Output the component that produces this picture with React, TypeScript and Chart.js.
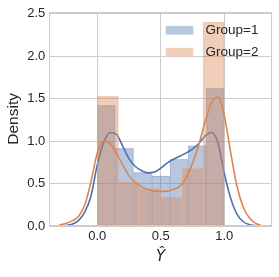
import React, { useEffect, useRef } from 'react';
import { Chart, registerables } from 'chart.js';

Chart.register(...registerables);

// ---- data ----
const groupLabels = ['Group=1', 'Group=2'];
const histRange = [0, 1];
const hist1 = [1.42, 0.915, 0.63, 0.59, 0.787, 0.945, 1.62];
const hist2 = [1.527, 0.52, 0.44, 0.34, 0.68, 2.4];
const kdeX = [
  -0.3, -0.25, -0.2, -0.15, -0.1, -0.05, 0.0, 0.05, 0.1, 0.15, 0.2, 0.25, 0.3, 0.35, 0.4, 0.45, 0.5,
  0.55, 0.6, 0.65, 0.7, 0.75, 0.8, 0.85, 0.9, 0.95, 1.0, 1.05, 1.1, 1.15, 1.2, 1.25, 1.3,
];
const kde1 = [
  0.0, 0.005, 0.02, 0.06, 0.16, 0.35, 0.72, 0.98, 1.1, 1.08, 0.94, 0.79, 0.7, 0.65, 0.625, 0.635, 0.68,
  0.74, 0.785, 0.82, 0.86, 0.905, 0.97, 1.06, 1.1, 0.98, 0.62, 0.33, 0.14, 0.05, 0.015, 0.003, 0.0,
];
const kde2 = [
  0.01, 0.03, 0.06, 0.11, 0.24, 0.52, 0.86, 1.0, 0.97, 0.86, 0.72, 0.59, 0.51, 0.46, 0.43, 0.41, 0.405,
  0.41, 0.43, 0.47, 0.57, 0.74, 0.96, 1.23, 1.45, 1.52, 1.3, 0.87, 0.47, 0.22, 0.09, 0.03, 0.0,
];
const xTicks = [0, 0.5, 1.0];
const yTicks = [0, 0.5, 1.0, 1.5, 2.0, 2.5];
const xRange = [-0.378, 1.376];
const yRange = [0, 2.52];
const xTitle = 'Ŷ';
const yTitle = 'Density';

const BLUE = [76, 114, 176];
const ORANGE = [221, 132, 82];
const TEXT = '#262626';
const GRID = '#cccccc';
const FONT = "'Liberation Sans', Arial, sans-serif";

const rgba = (c: number[], a: number) => `rgba(${c[0]},${c[1]},${c[2]},${a})`;
const edge = (c: number[]) => rgba(c.map((v) => Math.round(v * 0.6 + 255 * 0.4)), 0.45);

function binCenters(values: number[]) {
  const w = (histRange[1] - histRange[0]) / values.length;
  return values.map((v, i) => ({ x: histRange[0] + w * (i + 0.5), y: v }));
}

const framePlugin = {
  id: 'frame',
  afterDatasetsDraw(chart: any) {
    const { ctx, chartArea: a } = chart;
    ctx.save();
    ctx.strokeStyle = GRID;
    ctx.lineWidth = 1;
    ctx.strokeRect(Math.round(a.left) + 0.5, Math.round(a.top) + 0.5, Math.round(a.right - a.left) - 1, Math.round(a.bottom - a.top) - 1);
    ctx.restore();
  },
};

const legendPlugin = {
  id: 'customLegend',
  afterDraw(chart: any) {
    const { ctx, chartArea: a } = chart;
    const colors = [BLUE, ORANGE];
    ctx.save();
    ctx.font = `13.5px ${FONT}`;
    ctx.textBaseline = 'middle';
    ctx.textAlign = 'left';
    groupLabels.forEach((lab, i) => {
      const cy = a.top + 18.5 + i * 22;
      const bx = a.right - 106.5;
      ctx.fillStyle = rgba(colors[i], 0.4);
      ctx.fillRect(bx, cy - 4.5, 28, 9);
      ctx.strokeStyle = 'rgba(255,255,255,0.4)';
      ctx.lineWidth = 1;
      ctx.strokeRect(bx, cy - 4.5, 28, 9);
      ctx.fillStyle = TEXT;
      ctx.fillText(lab, a.right - 66.5, cy);
    });
    ctx.restore();
  },
};

export default function App() {
  const ref = useRef<HTMLCanvasElement>(null);
  useEffect(() => {
    if (!ref.current) return;
    const tickFont = { family: FONT, size: 13 };
    const chart = new Chart(ref.current, {
      type: 'bar',
      data: {
        datasets: [
          {
            type: 'bar',
            label: groupLabels[0],
            data: binCenters(hist1) as any,
            xAxisID: 'x',
            backgroundColor: rgba(BLUE, 0.4),
            borderColor: edge(BLUE),
            borderWidth: 0.6,
            borderSkipped: false,
            barPercentage: 1,
            categoryPercentage: 1,
            grouped: false,
            order: 4,
          },
          {
            type: 'line',
            label: groupLabels[0] + ' kde',
            data: kdeX.map((x, i) => ({ x, y: kde1[i] })) as any,
            xAxisID: 'x',
            borderColor: rgba(BLUE, 1),
            borderWidth: 1.6,
            pointRadius: 0,
            cubicInterpolationMode: 'monotone',
            fill: false,
            order: 3,
          },
          {
            type: 'bar',
            label: groupLabels[1],
            data: binCenters(hist2) as any,
            xAxisID: 'x2',
            backgroundColor: rgba(ORANGE, 0.4),
            borderColor: edge(ORANGE),
            borderWidth: 0.6,
            borderSkipped: false,
            barPercentage: 1,
            categoryPercentage: 1,
            grouped: false,
            order: 2,
          },
          {
            type: 'line',
            label: groupLabels[1] + ' kde',
            data: kdeX.map((x, i) => ({ x, y: kde2[i] })) as any,
            xAxisID: 'x',
            borderColor: rgba(ORANGE, 1),
            borderWidth: 1.6,
            pointRadius: 0,
            cubicInterpolationMode: 'monotone',
            fill: false,
            order: 1,
          },
        ],
      },
      options: {
        responsive: false,
        animation: false,
        layout: { padding: { top: 9.5, right: 7, left: 0, bottom: 0 } },
        plugins: { legend: { display: false }, tooltip: { enabled: false } },
        scales: {
          x: {
            type: 'linear',
            min: xRange[0],
            max: xRange[1],
            offset: false,
            afterBuildTicks: (s: any) => {
              s.ticks = xTicks.map((v) => ({ value: v }));
            },
            afterFit: (s: any) => {
              s.height = 51;
            },
            grid: { color: GRID, lineWidth: 1, drawTicks: false, offset: false },
            border: { display: false },
            ticks: {
              font: tickFont,
              color: TEXT,
              padding: 3,
              maxRotation: 0,
              callback: (v: any) => Number(v).toFixed(1),
            },
            title: {
              display: true,
              text: xTitle,
              color: TEXT,
              font: { family: "'DejaVu Sans', sans-serif", size: 15, style: 'italic' },
              padding: { top: 0, bottom: 11 },
            },
          },
          x2: {
            type: 'linear',
            display: false,
            min: xRange[0],
            max: xRange[1],
            offset: false,
            afterBuildTicks: (s: any) => {
              s.ticks = xTicks.map((v) => ({ value: v }));
            },
            grid: { offset: false },
          },
          y: {
            type: 'linear',
            min: yRange[0],
            max: yRange[1],
            afterBuildTicks: (s: any) => {
              s.ticks = yTicks.map((v) => ({ value: v }));
            },
            afterFit: (s: any) => {
              s.width = 49.3;
            },
            grid: { color: GRID, lineWidth: 1, drawTicks: false },
            border: { display: false },
            ticks: {
              font: tickFont,
              color: TEXT,
              padding: 4,
              callback: (v: any) => Number(v).toFixed(1),
            },
            title: {
              display: true,
              text: yTitle,
              color: TEXT,
              font: { family: FONT, size: 15.5 },
              padding: { top: 4, bottom: 0 },
            },
          },
        },
      },
      plugins: [framePlugin, legendPlugin],
    });
    return () => chart.destroy();
  }, []);
  return (
    <div style={{ position: 'absolute', left: 0, top: 0, width: 279, height: 277, background: '#fff' }}>
      <canvas ref={ref} width={279} height={277} style={{ display: 'block' }} />
    </div>
  );
}
